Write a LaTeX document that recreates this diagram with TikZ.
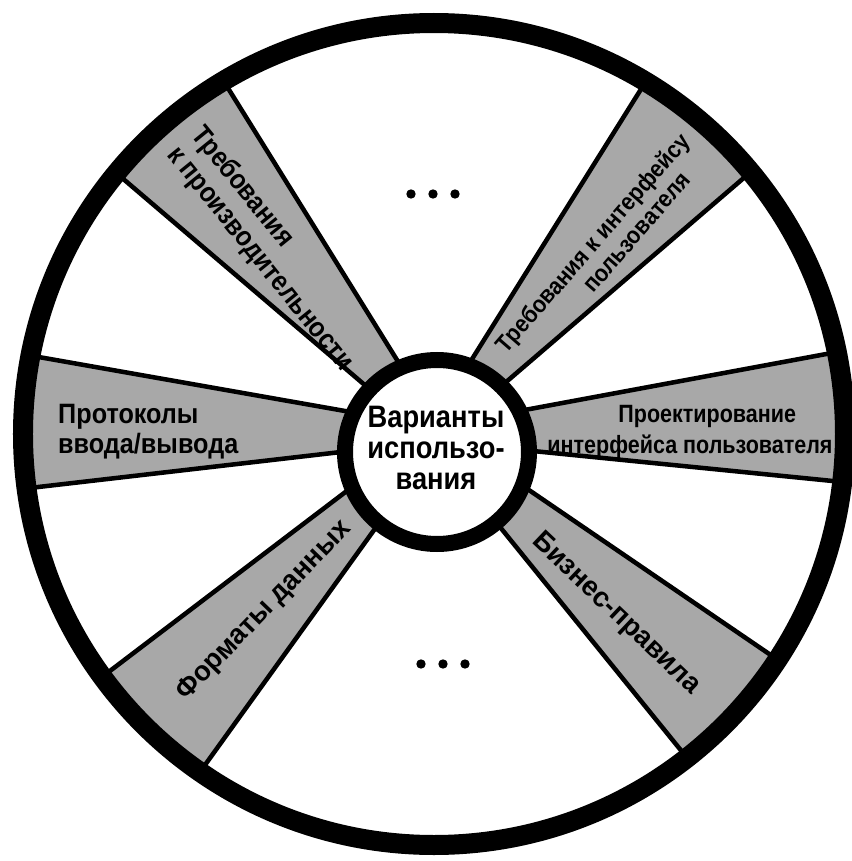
\documentclass[tikz,border=0pt]{standalone}
\usepackage{fontspec}
\setmainfont{Liberation Sans}
\definecolor{wheelgray}{HTML}{A8A8A8}

\begin{document}
\begin{tikzpicture}[
    x=0.75pt, y=0.75pt,
    wedge/.style={fill=wheelgray, draw=black, line width=3.4pt, line join=round},
    wedgetext/.style={font=\bfseries\fontsize{21}{22.5}\selectfont, inner sep=0pt, transform shape},
    hubtext/.style={font=\bfseries\fontsize{23.25}{23}\selectfont, align=center, inner sep=0pt, xscale=0.88, transform shape}
  ]
  \useasboundingbox (-434,-427) rectangle (418,434);
  % gray spokes: start angle / end angle at the rim
  \foreach \a/\b in {-6.7/11.5, 39.6/59, 120.8/140.6, 169/187.6, 216.2/235.3, 308/326.7}{
    \path[wedge] (\a:411) arc[start angle=\a, end angle=\b, radius=411]
      -- ({(\a+\b)/2+180}:50) -- cycle;
  }
  % rim and hub
  \draw[line width=15pt] (0,0) circle[radius=411];
  \filldraw[fill=white, line width=12pt] (3,-18) circle[radius=92];
  \node[hubtext] (hub) at (2,-14) {Варианты\\использо-\\вания};
  % spoke labels
  \node[wedgetext, font=\bfseries\fontsize{21}{23.5}\selectfont, rotate=-51, xscale=0.88, align=left] (perf) at (-162,185) {Требования\\к производительности};
  \node[wedgetext, font=\bfseries\fontsize{18}{19.5}\selectfont, rotate=49, xscale=0.9, align=center] (ui) at (168,183) {Требования к интерфейсу\\\hspace*{62pt}пользователя};
  \node[wedgetext, xscale=0.9, align=left, anchor=west] (io) at (-376,2) {Протоколы\\ввода/вывода};
  \node[wedgetext, font=\bfseries\fontsize{18.75}{23}\selectfont, xscale=0.86, align=center] (design) at (256,2) {\hspace*{30pt}Проектирование\\интерфейса пользователя};
  \node[wedgetext, rotate=46, xscale=0.97] (data) at (-170,-177) {Форматы данных};
  \node[wedgetext, rotate=-43.5, xscale=0.98] (rules) at (182,-180) {Бизнес-правила};
  % ellipses
  \foreach \dx in {-22,0,22}{
    \fill (\dx-1,240) circle[radius=4.7];
    \fill (\dx+9,-230) circle[radius=4.7];
  }
\end{tikzpicture}
\end{document}
